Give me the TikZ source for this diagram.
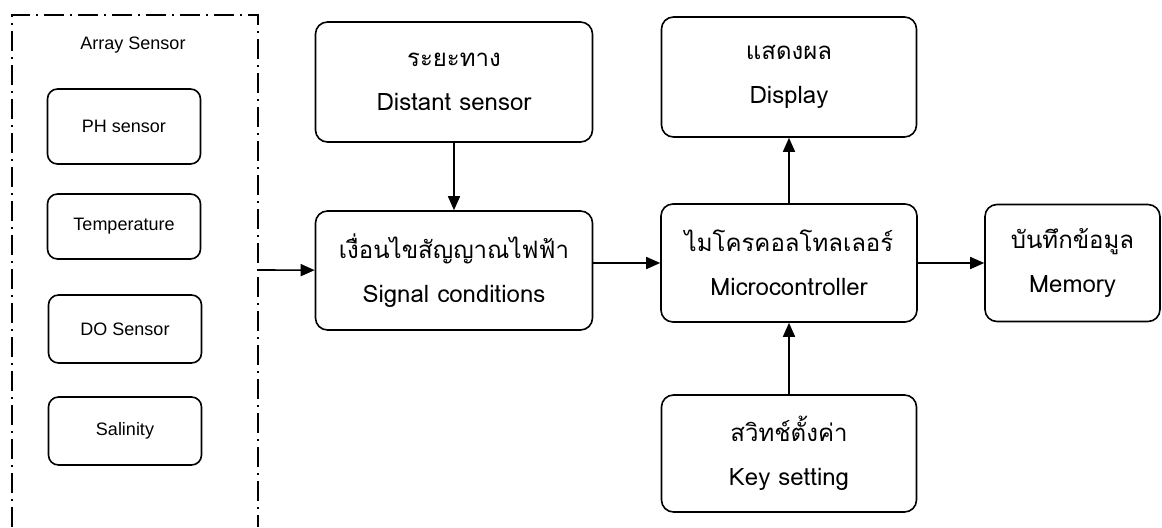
\documentclass[tikz,border=0pt]{standalone}
\usepackage{fontspec}
\setmainfont{Liberation Sans}
\newfontfamily\thaifont[Script=Thai]{Loma}
\usetikzlibrary{arrows.meta}

\begin{document}
\begin{tikzpicture}[x=0.5pt, y=0.5pt,
    bigbox/.style={draw=black, line width=0.8pt, rounded corners=6pt, align=center,
      inner sep=0pt, font=\thaifont\fontsize{12}{22}\selectfont},
    sensbox/.style={draw=black, line width=0.8pt, rounded corners=5pt,
      minimum width=76.5pt, inner sep=0pt, font=\fontsize{9}{11}\selectfont},
    >={Triangle[length=7pt, width=6pt]}]
      \useasboundingbox (0,0) rectangle (1162,527);

      % dash-dot frame round the sensors (open at the bottom)
      \draw[line width=0.7pt, dash pattern=on 10pt off 3pt on 1pt off 3pt]
         (12,0) -- (12,512) -- (258,512) -- (258,0);
      \node[name=title, font=\fontsize{9}{11}\selectfont] at (133,482) {Array Sensor};
      \coordinate (arr) at (258,257);

      \node[sensbox, name=ph, minimum height=37.5pt] at (124,400.5) {PH sensor};
      \node[sensbox, name=temp, minimum height=32.5pt] at (124,300.5) {Temperature};
      \node[sensbox, name=do, minimum height=34pt] at (125,198) {DO Sensor};
      \node[sensbox, name=sal, minimum height=34pt] at (125,96) {Salinity};

      \node[bigbox, name=dist, minimum width=138.5pt, minimum height=60pt] at (454,445)
         {ระยะทาง\\Distant sensor};
      \node[bigbox, name=sig, minimum width=138.5pt, minimum height=59.5pt] at (454,256.5)
         {เงื่อนไขสัญญาณไฟฟ้า\\Signal conditions};
      \node[bigbox, name=mcu, minimum width=128pt, minimum height=59pt] at (789,264)
         {ไมโครคอลโทลเลอร์\\Microcontroller};
      \node[bigbox, name=disp, minimum width=127.5pt, minimum height=60pt] at (789,450)
         {แสดงผล\\Display};
      \node[bigbox, name=key, minimum width=127.5pt, minimum height=58.5pt] at (789,73.5)
         {สวิทช์ตั้งค่า\\Key setting};
      \node[bigbox, name=mem, minimum width=87.5pt, minimum height=58.5pt] at (1072.5,264)
         {บันทึกข้อมูล\\Memory};

      \path[->, line width=0.8pt]
         (arr) edge (sig)
         (dist) edge (sig)
         (sig.east |- mcu) edge (mcu)
         (mcu) edge (disp)
         (key) edge (mcu)
         (mcu) edge (mem);
   \end{tikzpicture}
\end{document}
